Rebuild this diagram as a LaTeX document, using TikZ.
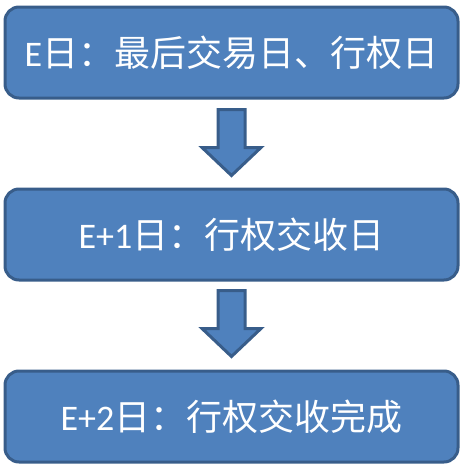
\documentclass[tikz,border=0pt]{standalone}
\usepackage{fontspec}
\setmainfont{Carlito}
\newfontfamily\cjk{Noto Sans CJK SC}
\usetikzlibrary{calc}
\definecolor{boxfill}{HTML}{4F81BD}
\definecolor{boxline}{HTML}{385D8A}
\tikzset{
  stepbox/.style={draw=boxline, fill=boxfill, line width=3pt, rounded corners=14pt,
    minimum width=453pt, minimum height=91pt, inner sep=0pt, text=white,
    font=\fontsize{36pt}{42pt}\selectfont},
  blockarrow/.style={draw=boxline, fill=boxfill, line width=3pt, line join=miter}
}
\begin{document}
\begin{tikzpicture}[x=1pt,y=-1pt]
\useasboundingbox (0,0) rectangle (464,471);
\node[stepbox] (b1) at (231.5,52.5) {E{\cjk 日：最后交易日、行权日}};
\node[stepbox] (b2) at (231.5,234.5) {E+1{\cjk 日：行权交收日}};
\node[stepbox] (b3) at (231.5,416.5) {E+2{\cjk 日：行权交收完成}};
\coordinate (a1) at ($(b1.south)+(0,10)$);
\coordinate (a2) at ($(b2.south)+(0,9)$);
\foreach \a in {a1,a2}{
  \draw[blockarrow] ($(\a)+(-13.5,0)$) -- ($(\a)+(13.5,0)$) -- ($(\a)+(13.5,38)$)
    -- ($(\a)+(29.5,38)$) -- ($(\a)+(0,66)$) -- ($(\a)+(-29.5,38)$)
    -- ($(\a)+(-13.5,38)$) -- cycle;
}
\end{tikzpicture}
\end{document}
